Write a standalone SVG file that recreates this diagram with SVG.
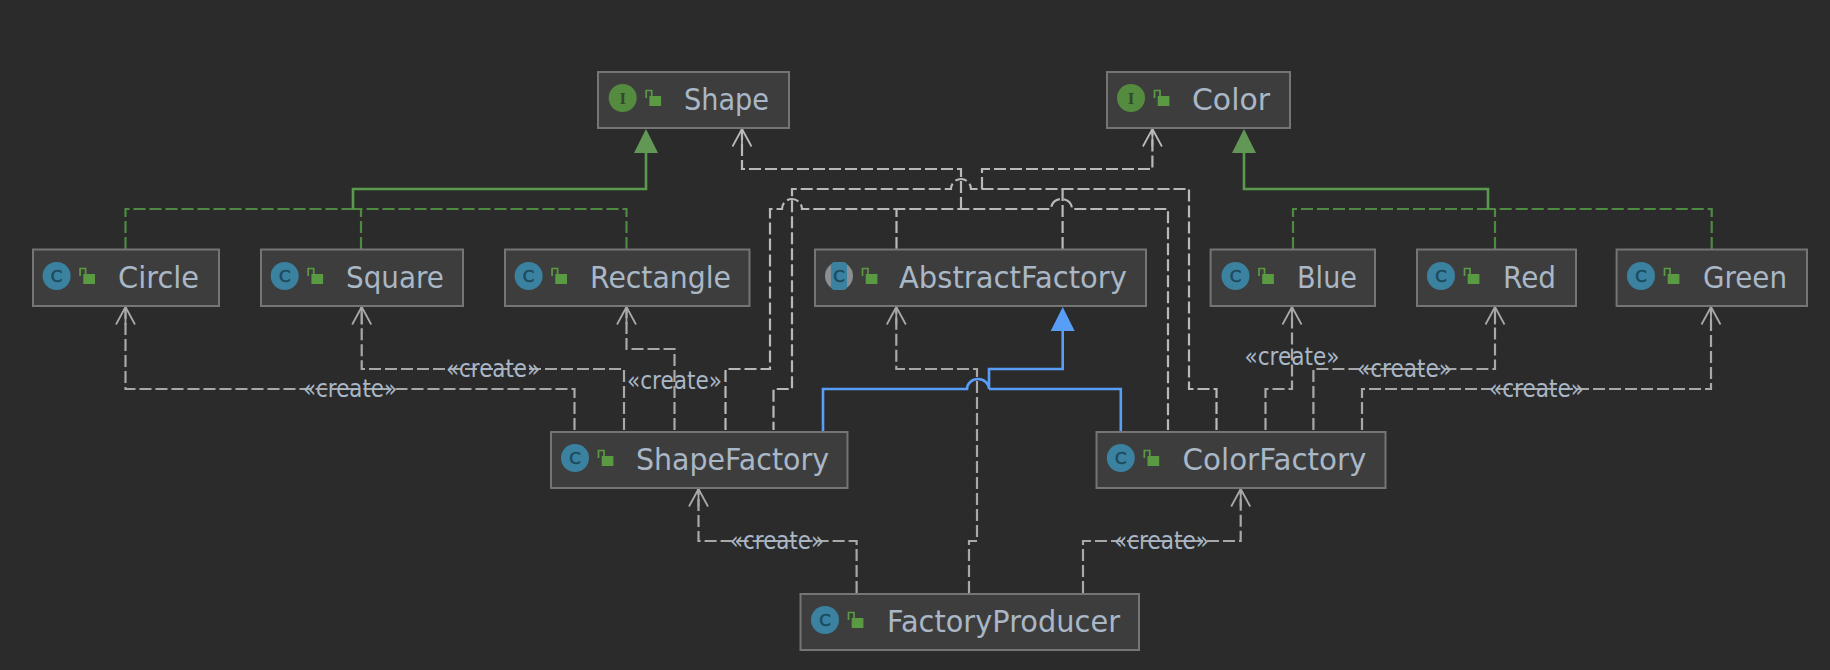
<svg xmlns="http://www.w3.org/2000/svg" width="1830" height="670" viewBox="0 0 1830 670">
<style>
.box{fill:#3d3d3d;stroke:#757575;stroke-width:2}
.name{font-family:"DejaVu Sans",sans-serif;font-size:31px;fill:#a9b7c6}
.lbl{font-family:"DejaVu Sans",sans-serif;font-size:24px;fill:#a9b7c6}
.cc{fill:#3a829f}.ci{fill:#558b3f}
.cl{font-family:"DejaVu Sans",sans-serif;font-size:16.500px;fill:#1d4a5e;stroke:#1d4a5e;stroke-width:.6;text-anchor:middle}
.il{font-family:"Liberation Serif",serif;font-size:17px;font-weight:bold;fill:#2e4a26;text-anchor:middle}
.line{fill:none}
.dep{stroke:#a8a8a8;stroke-width:2.2;stroke-dasharray:12 4;marker-end:url(#open)}
.depu{stroke:#b9b9b9;stroke-width:2.2;stroke-dasharray:12 4}
.gd{stroke:#4f8a43;stroke-width:2.2;stroke-dasharray:12 4}
.gs{stroke:#5a9a4c;stroke-width:2.6}
.bs{stroke:#589df6;stroke-width:2.6}
</style>
<defs>
<marker id="open" markerUnits="userSpaceOnUse" markerWidth="24" markerHeight="26" refX="20" refY="13" orient="auto" overflow="visible"><path d="M2.500 3.500L20 13L2.500 22.500M2.500 13H20" fill="none" stroke="#a8a8a8" stroke-width="1.800"/></marker>
<marker id="opl" markerUnits="userSpaceOnUse" markerWidth="24" markerHeight="26" refX="20" refY="13" orient="auto" overflow="visible"><path d="M2.500 3.500L20 13L2.500 22.500M2.500 13H20" fill="none" stroke="#b9b9b9" stroke-width="1.800"/></marker>
<marker id="gtri" markerUnits="userSpaceOnUse" markerWidth="26" markerHeight="26" refX="0" refY="13" orient="auto" overflow="visible"><path d="M0 1L24 13L0 25Z" fill="#629755"/></marker>
<marker id="btri" markerUnits="userSpaceOnUse" markerWidth="26" markerHeight="26" refX="0" refY="13" orient="auto" overflow="visible"><path d="M0 1L24 13L0 25Z" fill="#589df6"/></marker>
<g id="lock"><rect x="26.700" y="-2" width="11.700" height="10" fill="#5a9a42"/><path d="M23.500 0V-7.500H29V-2" fill="none" stroke="#5a9a42" stroke-width="1.700"/></g>
</defs>
<rect width="1830" height="670" fill="#2b2b2b"/>
<g id="connectors" class="line">
<path class="gd" d="M125.500 249V209H353"/>
<path class="gd" d="M361 249V209"/>
<path class="gd" d="M626.500 249V209H353"/>
<path class="gs" d="M353 209V189H646V153" marker-end="url(#gtri)"/>
<path class="gd" d="M1293 249V209H1488"/>
<path class="gd" d="M1495 249V209"/>
<path class="gd" d="M1711.700 249V209H1488"/>
<path class="gs" d="M1488 209V189H1244V153" marker-end="url(#gtri)"/>
<path class="depu" d="M896.500 249V209"/>
<path class="depu" d="M961 209V169H742V129" marker-end="url(#opl)"/>
<path class="depu" d="M1062.600 249V189"/>
<path class="depu" d="M982 189V169H1152.400V129" marker-end="url(#opl)"/>
<path class="depu" d="M1216.500 430V389H1189V189H971a10 10 0 0 0-20 0H792V389H773.500V430"/>
<path class="depu" d="M725.500 430V369H770V209H782a10 10 0 0 1 20 0H1051a10.500 10 0 0 1 21 0H1168V430"/>
<path class="bs" d="M823 431V389H967a11 10 0 0 1 22 0V369H1062.700V331" marker-end="url(#btri)"/>
<path class="bs" d="M1120.800 431V389H989"/>
<path class="dep" d="M574.500 430V389H125.500V307"/>
<path class="dep" d="M624 430V369H361.700V307"/>
<path class="dep" d="M674.500 430V349H626.500V307"/>
<path class="dep" d="M856.600 593V541H698.500V489"/>
<path class="dep" d="M969 593V541H977V369H896.300V307"/>
<path class="dep" d="M1083 593V541H1240.700V489"/>
<path class="dep" d="M1265.500 430V389H1292V307"/>
<path class="dep" d="M1313.400 430V369H1495V307"/>
<path class="dep" d="M1362 430V389H1711V307"/>
<text class="lbl" x="303" y="397" textLength="94" lengthAdjust="spacingAndGlyphs">«create»</text>
<text class="lbl" x="446" y="377" textLength="94" lengthAdjust="spacingAndGlyphs">«create»</text>
<text class="lbl" x="627" y="389" textLength="95" lengthAdjust="spacingAndGlyphs">«create»</text>
<text class="lbl" x="730" y="549" textLength="94" lengthAdjust="spacingAndGlyphs">«create»</text>
<text class="lbl" x="1244.500" y="365" textLength="95" lengthAdjust="spacingAndGlyphs">«create»</text>
<text class="lbl" x="1357" y="377" textLength="95" lengthAdjust="spacingAndGlyphs">«create»</text>
<text class="lbl" x="1489" y="397" textLength="95" lengthAdjust="spacingAndGlyphs">«create»</text>
<text class="lbl" x="1114" y="549" textLength="95" lengthAdjust="spacingAndGlyphs">«create»</text>
</g>
<g id="Shape"><rect class="box" x="598" y="72" width="191" height="56"/><circle class="ci" cx="622.700" cy="98" r="14"/><text class="il" x="622.700" y="104">I</text><use href="#lock" x="622.700" y="98"/><text class="name" x="684" y="110" textLength="85" lengthAdjust="spacingAndGlyphs">Shape</text></g>
<g id="Color"><rect class="box" x="1107" y="72" width="183" height="56"/><circle class="ci" cx="1131" cy="98" r="14"/><text class="il" x="1131" y="104">I</text><use href="#lock" x="1131" y="98"/><text class="name" x="1192" y="110" textLength="78" lengthAdjust="spacingAndGlyphs">Color</text></g>
<g id="Circle"><rect class="box" x="33" y="249.500" width="186" height="56.500"/><circle class="cc" cx="56.600" cy="276" r="14"/><text class="cl" x="56.600" y="282">C</text><use href="#lock" x="56.600" y="276"/><text class="name" x="118" y="288" textLength="81" lengthAdjust="spacingAndGlyphs">Circle</text></g>
<g id="Square"><rect class="box" x="261" y="249.500" width="202" height="56.500"/><circle class="cc" cx="284.700" cy="276" r="14"/><text class="cl" x="284.700" y="282">C</text><use href="#lock" x="284.700" y="276"/><text class="name" x="346" y="288" textLength="98" lengthAdjust="spacingAndGlyphs">Square</text></g>
<g id="Rectangle"><rect class="box" x="505" y="249.500" width="244.500" height="56.500"/><circle class="cc" cx="528.600" cy="276" r="14"/><text class="cl" x="528.600" y="282">C</text><use href="#lock" x="528.600" y="276"/><text class="name" x="590" y="288" textLength="141" lengthAdjust="spacingAndGlyphs">Rectangle</text></g>
<g id="AbstractFactory"><rect class="box" x="815" y="249.500" width="331" height="56.500"/><circle cx="839" cy="276" r="14" fill="#8a8f93"/><rect x="831" y="262" width="16" height="28" rx="4" class="cc"/><text class="cl" x="839" y="282">C</text><use href="#lock" x="839" y="276"/><text class="name" x="899" y="288" textLength="228" lengthAdjust="spacingAndGlyphs">AbstractFactory</text></g>
<g id="Blue"><rect class="box" x="1210.600" y="249.500" width="164.400" height="56.500"/><circle class="cc" cx="1235.500" cy="276" r="14"/><text class="cl" x="1235.500" y="282">C</text><use href="#lock" x="1235.500" y="276"/><text class="name" x="1297" y="288" textLength="60" lengthAdjust="spacingAndGlyphs">Blue</text></g>
<g id="Red"><rect class="box" x="1417" y="249.500" width="159" height="56.500"/><circle class="cc" cx="1441" cy="276" r="14"/><text class="cl" x="1441" y="282">C</text><use href="#lock" x="1441" y="276"/><text class="name" x="1503" y="288" textLength="53" lengthAdjust="spacingAndGlyphs">Red</text></g>
<g id="Green"><rect class="box" x="1616.600" y="249.500" width="190.400" height="56.500"/><circle class="cc" cx="1641" cy="276" r="14"/><text class="cl" x="1641" y="282">C</text><use href="#lock" x="1641" y="276"/><text class="name" x="1703" y="288" textLength="84" lengthAdjust="spacingAndGlyphs">Green</text></g>
<g id="ShapeFactory"><rect class="box" x="551" y="432" width="296.500" height="56"/><circle class="cc" cx="575" cy="458" r="14"/><text class="cl" x="575" y="464">C</text><use href="#lock" x="575" y="458"/><text class="name" x="636" y="470" textLength="193" lengthAdjust="spacingAndGlyphs">ShapeFactory</text></g>
<g id="ColorFactory"><rect class="box" x="1096.500" y="432" width="289" height="56"/><circle class="cc" cx="1120.800" cy="458" r="14"/><text class="cl" x="1120.800" y="464">C</text><use href="#lock" x="1120.800" y="458"/><text class="name" x="1182.500" y="470" textLength="184" lengthAdjust="spacingAndGlyphs">ColorFactory</text></g>
<g id="FactoryProducer"><rect class="box" x="800.500" y="594" width="338.500" height="56"/><circle class="cc" cx="825" cy="620" r="14"/><text class="cl" x="825" y="626">C</text><use href="#lock" x="825" y="620"/><text class="name" x="887" y="632" textLength="233" lengthAdjust="spacingAndGlyphs">FactoryProducer</text></g>
</svg>
